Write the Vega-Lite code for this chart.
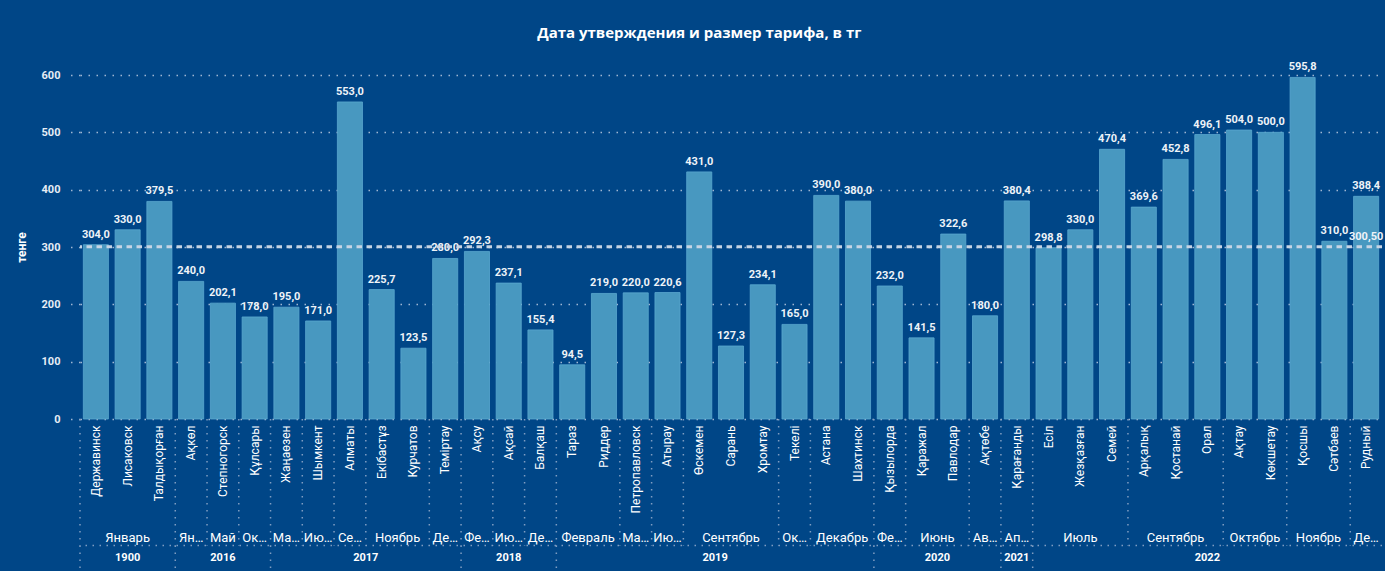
{
  "$schema": "https://vega.github.io/schema/vega-lite/v6.json",
  "width": 1302,
  "height": 344,
  "autosize": {"type": "none"},
  "padding": {"left": 80, "top": 75, "right": 3, "bottom": 152},
  "background": "#004687",
  "config": {
    "view": {"stroke": null},
    "locale": {"number": {"decimal": ",", "thousands": " ", "grouping": [3], "currency": ["", ""]}},
    "text": {"font": "Roboto"}
  },
  "title": {
    "text": "Дата утверждения и размер тарифа, в тг",
    "color": "#ffffff",
    "font": "Open Sans",
    "fontSize": 15,
    "fontWeight": "bold",
    "anchor": "middle",
    "frame": "bounds",
    "offset": 20
  },
  "datasets": {
    "tariffs": [
      {"i": 0, "city": "Державинск", "value": 304.0, "month": "Январь", "year": "1900"},
      {"i": 1, "city": "Лисаковск", "value": 330.0, "month": "Январь", "year": "1900"},
      {"i": 2, "city": "Талдықорған", "value": 379.5, "month": "Январь", "year": "1900"},
      {"i": 3, "city": "Ақкөл", "value": 240.0, "month": "Январь", "year": "2016"},
      {"i": 4, "city": "Степногорск", "value": 202.1, "month": "Май", "year": "2016"},
      {"i": 5, "city": "Құлсары", "value": 178.0, "month": "Октябрь", "year": "2016"},
      {"i": 6, "city": "Жаңаөзен", "value": 195.0, "month": "Март", "year": "2017"},
      {"i": 7, "city": "Шымкент", "value": 171.0, "month": "Июнь", "year": "2017"},
      {"i": 8, "city": "Алматы", "value": 553.0, "month": "Сентябрь", "year": "2017"},
      {"i": 9, "city": "Екібастұз", "value": 225.7, "month": "Ноябрь", "year": "2017"},
      {"i": 10, "city": "Курчатов", "value": 123.5, "month": "Ноябрь", "year": "2017"},
      {"i": 11, "city": "Теміртау", "value": 280.0, "month": "Декабрь", "year": "2017"},
      {"i": 12, "city": "Ақсу", "value": 292.3, "month": "Февраль", "year": "2018"},
      {"i": 13, "city": "Ақсай", "value": 237.1, "month": "Июль", "year": "2018"},
      {"i": 14, "city": "Балқаш", "value": 155.4, "month": "Декабрь", "year": "2018"},
      {"i": 15, "city": "Тараз", "value": 94.5, "month": "Февраль", "year": "2019"},
      {"i": 16, "city": "Риддер", "value": 219.0, "month": "Февраль", "year": "2019"},
      {"i": 17, "city": "Петропавловск", "value": 220.0, "month": "Март", "year": "2019"},
      {"i": 18, "city": "Атырау", "value": 220.6, "month": "Июль", "year": "2019"},
      {"i": 19, "city": "Өскемен", "value": 431.0, "month": "Сентябрь", "year": "2019"},
      {"i": 20, "city": "Сарань", "value": 127.3, "month": "Сентябрь", "year": "2019"},
      {"i": 21, "city": "Хромтау", "value": 234.1, "month": "Сентябрь", "year": "2019"},
      {"i": 22, "city": "Текелі", "value": 165.0, "month": "Октябрь", "year": "2019"},
      {"i": 23, "city": "Астана", "value": 390.0, "month": "Декабрь", "year": "2019"},
      {"i": 24, "city": "Шахтинск", "value": 380.0, "month": "Декабрь", "year": "2019"},
      {"i": 25, "city": "Қызылорда", "value": 232.0, "month": "Февраль", "year": "2020"},
      {"i": 26, "city": "Қаражал", "value": 141.5, "month": "Июнь", "year": "2020"},
      {"i": 27, "city": "Павлодар", "value": 322.6, "month": "Июнь", "year": "2020"},
      {"i": 28, "city": "Ақтөбе", "value": 180.0, "month": "Август", "year": "2020"},
      {"i": 29, "city": "Қарағанды", "value": 380.4, "month": "Апрель", "year": "2021"},
      {"i": 30, "city": "Есіл", "value": 298.8, "month": "Июль", "year": "2022"},
      {"i": 31, "city": "Жезқазған", "value": 330.0, "month": "Июль", "year": "2022"},
      {"i": 32, "city": "Семей", "value": 470.4, "month": "Июль", "year": "2022"},
      {"i": 33, "city": "Арқалық", "value": 369.6, "month": "Сентябрь", "year": "2022"},
      {"i": 34, "city": "Қостанай", "value": 452.8, "month": "Сентябрь", "year": "2022"},
      {"i": 35, "city": "Орал", "value": 496.1, "month": "Сентябрь", "year": "2022"},
      {"i": 36, "city": "Ақтау", "value": 504.0, "month": "Октябрь", "year": "2022"},
      {"i": 37, "city": "Көкшетау", "value": 500.0, "month": "Октябрь", "year": "2022"},
      {"i": 38, "city": "Қосшы", "value": 595.8, "month": "Ноябрь", "year": "2022"},
      {"i": 39, "city": "Сәтбаев", "value": 310.0, "month": "Ноябрь", "year": "2022"},
      {"i": 40, "city": "Рудный", "value": 388.4, "month": "Декабрь", "year": "2022"}
    ]
  },
  "data": {"name": "tariffs"},
  "layer": [
    {
      "layer": [
        {
          "mark": {"type": "bar", "color": "#4898c0", "stroke": "#5aa8cf", "strokeWidth": 0.8},
          "encoding": {
            "x": {
              "field": "city", "type": "nominal", "sort": null,
              "scale": {"paddingInner": 0.21, "paddingOuter": 0.105},
              "axis": {
                "title": null, "labelAngle": -90, "labelColor": "#ffffff", "labelFont": "Roboto",
                "labelFontSize": 12, "labelPadding": 6, "ticks": false, "domain": false, "grid": false,
                "labelOverlap": false, "labelBound": false, "labelLimit": 200
              }
            },
            "y": {
              "field": "value", "type": "quantitative",
              "scale": {"domain": [0, 600], "nice": false},
              "axis": {
                "title": "тенге", "titleColor": "#ffffff", "titleFont": "Roboto", "titleFontSize": 12,
                "titleFontWeight": "bold", "titlePadding": 13,
                "labelColor": "#e6edf5", "labelFont": "Roboto", "labelFontWeight": "bold", "labelFontSize": 11,
                "labelPadding": 10, "tickCount": 6, "ticks": true, "tickSize": 10,
                "tickColor": "#9fb6d2", "tickDash": [1.5, 6.5], "tickWidth": 1.5,
                "domain": false, "grid": true, "gridColor": "#9fb6d2", "gridDash": [1.5, 6.5], "gridWidth": 1.5
              }
            }
          }
        },
        {
          "mark": {"type": "text", "baseline": "bottom", "dy": -5, "color": "#eef3f8", "fontSize": 11, "fontWeight": "bold", "font": "Roboto"},
          "encoding": {
            "x": {"field": "city", "type": "nominal", "sort": null},
            "y": {"field": "value", "type": "quantitative"},
            "text": {"field": "value", "type": "quantitative", "format": ".1f"}
          }
        },
        {
          "transform": [{"aggregate": [{"op": "mean", "field": "value", "as": "avg"}]}],
          "mark": {"type": "rule", "color": "#c6d4e4", "strokeWidth": 3, "strokeDash": [5.5, 4.5]},
          "encoding": {"y": {"field": "avg", "type": "quantitative"}}
        },
        {
          "transform": [{"aggregate": [{"op": "mean", "field": "value", "as": "avg"}]}],
          "mark": {"type": "text", "baseline": "bottom", "dy": -5, "color": "#eef3f8", "fontSize": 11, "fontWeight": "bold", "font": "Roboto"},
          "encoding": {
            "x": {"datum": "Рудный", "type": "nominal"},
            "y": {"field": "avg", "type": "quantitative"},
            "text": {"field": "avg", "type": "quantitative", "format": ".2f"}
          }
        }
      ]
    },
    {
      "layer": [
        {
          "transform": [{"aggregate": [{"op": "mean", "field": "i", "as": "center"}, {"op": "count", "as": "n"}], "groupby": ["year", "month"]}],
          "mark": {"type": "text", "fontSize": 13, "color": "#ffffff", "limit": {"expr": "datum.n * 31.76 - 3"}, "baseline": "middle", "font": "Roboto"},
          "encoding": {
            "x": {"field": "center", "type": "quantitative", "scale": {"domain": [-0.5, 40.5], "nice": false, "zero": false}, "axis": null},
            "y": {"datum": -207.6, "type": "quantitative"},
            "text": {"field": "month", "type": "nominal"}
          }
        },
        {
          "transform": [{"aggregate": [{"op": "mean", "field": "i", "as": "center"}], "groupby": ["year"]}],
          "mark": {"type": "text", "fontSize": 11, "fontWeight": "bold", "color": "#ffffff", "baseline": "middle", "font": "Roboto"},
          "encoding": {
            "x": {"field": "center", "type": "quantitative"},
            "y": {"datum": -242.5, "type": "quantitative"},
            "text": {"field": "year", "type": "nominal"}
          }
        }
      ]
    },
    {
      "layer": [
        {
          "transform": [{"aggregate": [{"op": "min", "field": "i", "as": "start"}], "groupby": ["year", "month"]}],
          "mark": {"type": "rule", "color": "#7f9dc2", "strokeWidth": 1.5, "strokeDash": [1.5, 5.5]},
          "encoding": {
            "x": {"field": "start", "type": "quantitative", "scale": {"domain": [0, 41], "nice": false, "zero": false}, "axis": null},
            "y": {"datum": 0, "type": "quantitative"},
            "y2": {"datum": -220.6}
          }
        },
        {
          "transform": [{"aggregate": [{"op": "min", "field": "i", "as": "start"}], "groupby": ["year"]}],
          "mark": {"type": "rule", "color": "#7f9dc2", "strokeWidth": 1.5, "strokeDash": [1.5, 5.5]},
          "encoding": {
            "x": {"field": "start", "type": "quantitative"},
            "y": {"datum": -220.6, "type": "quantitative"},
            "y2": {"datum": -268}
          }
        },
        {
          "transform": [{"aggregate": [{"op": "count", "as": "n"}]}],
          "mark": {"type": "rule", "color": "#7f9dc2", "strokeWidth": 1.5, "strokeDash": [1.5, 5.5]},
          "encoding": {"y": {"datum": -220.6, "type": "quantitative"}}
        }
      ]
    }
  ],
  "resolve": {"scale": {"x": "independent"}, "axis": {"x": "independent"}}
}
